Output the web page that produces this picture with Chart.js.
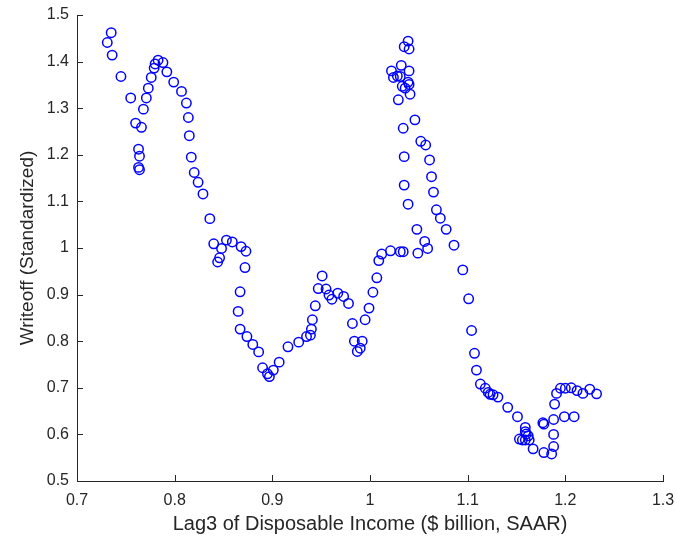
<!DOCTYPE html>
<html>
<head>
<meta charset="utf-8">
<script src="https://cdn.jsdelivr.net/npm/chart.js@4.4.1/dist/chart.umd.min.js"></script>
<style>
  html, body { margin: 0; padding: 0; background: #fff; }
  #wrap { width: 677px; height: 536px; }
</style>
</head>
<body>
<div id="wrap"><canvas id="scatterCanvas" width="677" height="536"></canvas></div>
<script>
// values
var incomeLag3 = [
  0.735, 0.731, 0.736, 0.745, 0.755, 0.760, 0.766, 0.763, 0.764, 0.763, 0.764,
  0.768, 0.771, 0.773, 0.776, 0.779, 0.780, 0.783, 0.788, 0.792, 0.799, 0.807,
  0.812, 0.814, 0.815, 0.817, 0.820, 0.824, 0.829, 0.836, 0.840, 0.848, 0.846,
  0.844, 0.853, 0.859, 0.868, 0.873, 0.872, 0.867, 0.865, 0.867, 0.874, 0.880,
  0.886, 0.890, 0.895, 0.897, 0.901, 0.907, 0.916, 0.927, 0.935, 0.939, 0.940,
  0.941, 0.944, 0.951, 0.947, 0.955, 0.958, 0.961, 0.967, 0.973, 0.978, 0.982,
  0.984, 0.992, 0.987, 0.990, 0.995, 0.999, 1.003, 1.007, 1.009, 1.012, 1.021,
  1.031, 1.039, 1.035, 1.040, 1.032, 1.022, 1.040, 1.024, 1.028, 1.031, 1.039,
  1.040, 1.033, 1.036, 1.041, 1.029, 1.046, 1.034, 1.052, 1.057, 1.035, 1.061,
  1.063, 1.035, 1.065, 1.039, 1.068, 1.072, 1.078, 1.048, 1.056, 1.059, 1.049,
  1.034, 1.086, 1.095, 1.101, 1.104, 1.107, 1.109, 1.113, 1.118, 1.121, 1.123,
  1.126, 1.131, 1.141, 1.151, 1.159, 1.159, 1.160, 1.162, 1.153, 1.156, 1.159,
  1.163, 1.167, 1.177, 1.178, 1.178, 1.186, 1.188, 1.188, 1.188, 1.189, 1.191,
  1.195, 1.199, 1.200, 1.206, 1.209, 1.212, 1.218, 1.225, 1.232
];
var writeoffStd = [
  1.462, 1.441, 1.414, 1.368, 1.322, 1.268, 1.259, 1.212, 1.197, 1.173, 1.168,
  1.298, 1.322, 1.343, 1.366, 1.386, 1.395, 1.403, 1.398, 1.378, 1.356, 1.336,
  1.311, 1.280, 1.241, 1.195, 1.162, 1.141, 1.116, 1.063, 1.009, 0.999, 0.979,
  0.970, 1.017, 1.013, 1.003, 0.993, 0.958, 0.906, 0.864, 0.826, 0.810, 0.793,
  0.777, 0.743, 0.730, 0.724, 0.738, 0.755, 0.788, 0.798, 0.810, 0.813, 0.826,
  0.846, 0.876, 0.940, 0.913, 0.912, 0.899, 0.890, 0.903, 0.896, 0.881, 0.838,
  0.800, 0.800, 0.778, 0.785, 0.846, 0.871, 0.905, 0.936, 0.973, 0.987, 0.994,
  0.992, 1.444, 1.432, 1.427, 1.392, 1.380, 1.380, 1.366, 1.369, 1.368, 1.356,
  1.351, 1.347, 1.343, 1.330, 1.318, 1.275, 1.257, 1.229, 1.221, 1.196, 1.189,
  1.153, 1.135, 1.120, 1.094, 1.082, 1.064, 1.040, 1.040, 1.014, 0.999, 0.989,
  0.992, 1.006, 0.953, 0.891, 0.823, 0.774, 0.738, 0.708, 0.699, 0.690, 0.686,
  0.685, 0.680, 0.658, 0.638, 0.615, 0.606, 0.601, 0.597, 0.590, 0.588, 0.588,
  0.588, 0.569, 0.625, 0.622, 0.561, 0.558, 0.574, 0.600, 0.632, 0.665, 0.688,
  0.699, 0.638, 0.699, 0.700, 0.638, 0.694, 0.688, 0.697, 0.687
];
var xTicks = [0.7, 0.8, 0.9, 1, 1.1, 1.2, 1.3];
var yTicks = [0.5, 0.6, 0.7, 0.8, 0.9, 1, 1.1, 1.2, 1.3, 1.4, 1.5];

var axisColor = "#262626";
var fontFamily = "Liberation Sans, Arial, sans-serif";

var points = incomeLag3.map(function(x, i) {
  return { x: x, y: writeoffStd[i] };
});

// MATLAB style ticks that point into the plot
var inwardTicks = {
  id: "inwardTicks",
  afterDraw: function(chart) {
    var ctx = chart.ctx;
    var area = chart.chartArea;
    var xs = chart.scales.x, ys = chart.scales.y;
    ctx.save();
    ctx.strokeStyle = axisColor;
    ctx.lineWidth = 1;
    ctx.beginPath();
    xTicks.forEach(function(v) {
      var px = Math.round(xs.getPixelForValue(v)) + 0.5;
      ctx.moveTo(px, area.bottom);
      ctx.lineTo(px, area.bottom - 6);
    });
    yTicks.forEach(function(v) {
      var py = Math.round(ys.getPixelForValue(v)) + 0.5;
      ctx.moveTo(area.left, py);
      ctx.lineTo(area.left + 6, py);
    });
    ctx.stroke();
    ctx.restore();
  }
};

var ctx = document.getElementById("scatterCanvas");
var myScatter = new Chart(ctx, {
  type: "scatter",
  data: {
    datasets: [{
      data: points,
      pointStyle: "circle",
      pointRadius: 4.7,
      pointHoverRadius: 4.7,
      borderWidth: 1.5,
      borderColor: "rgb(0, 0, 255)",
      backgroundColor: "rgba(0, 0, 0, 0)"
    }]
  },
  options: {
    responsive: false,
    animation: false,
    layout: { padding: { left: 10, right: 14, top: 15, bottom: 0 } },
    plugins: {
      legend: { display: false },
      tooltip: { enabled: false }
    },
    scales: {
      x: {
        type: "linear",
        min: 0.7,
        max: 1.3,
        afterBuildTicks: function(scale) {
          scale.ticks = xTicks.map(function(v) { return { value: v }; });
        },
        afterFit: function(scale) {
          scale.height = 55;
          scale.paddingLeft = 0;
          scale.paddingRight = 0;
        },
        grid: { display: true, drawOnChartArea: false, drawTicks: false },
        border: { color: axisColor, width: 1 },
        ticks: {
          color: axisColor,
          padding: 10,
          maxRotation: 0,
          font: { family: fontFamily, size: 16 },
          callback: function(v) { return String(Math.round(v * 10) / 10); }
        },
        title: {
          display: true,
          text: "Lag3 of Disposable Income ($ billion, SAAR)",
          color: axisColor,
          padding: { top: 0, bottom: 0 },
          font: { family: fontFamily, size: 20 }
        }
      },
      y: {
        type: "linear",
        min: 0.5,
        max: 1.5,
        afterBuildTicks: function(scale) {
          scale.ticks = yTicks.map(function(v) { return { value: v }; });
        },
        afterFit: function(scale) {
          scale.width = 67;
          scale.paddingTop = 0;
          scale.paddingBottom = 0;
        },
        grid: { display: true, drawOnChartArea: false, drawTicks: false },
        border: { color: axisColor, width: 1 },
        ticks: {
          color: axisColor,
          padding: 8,
          font: { family: fontFamily, size: 16 },
          callback: function(v) { return String(Math.round(v * 10) / 10); }
        },
        title: {
          display: true,
          text: "Writeoff (Standardized)",
          color: axisColor,
          padding: { top: 6, bottom: 0 },
          font: { family: fontFamily, size: 19 }
        }
      }
    }
  },
  plugins: [inwardTicks]
});
</script>
</body>
</html>
